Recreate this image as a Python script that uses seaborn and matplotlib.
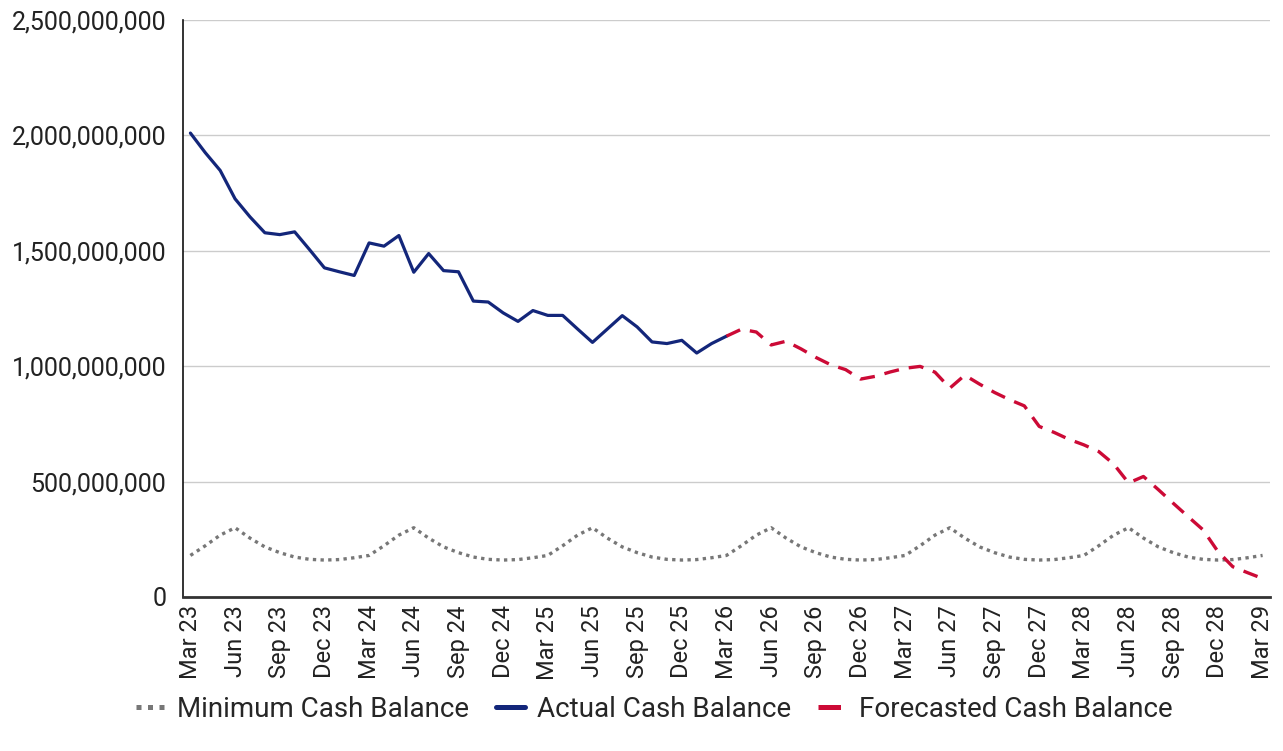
import matplotlib
matplotlib.use("Agg")
import matplotlib.pyplot as plt
from matplotlib.ticker import FuncFormatter
import pandas as pd
import seaborn as sns

# monthly categories, Mar 23 .. Mar 29
months = pd.date_range("2023-03-01", "2029-03-01", freq="MS").strftime("%b %y").tolist()

# values in millions
min_balance = [
    180, 222, 268, 300, 255, 217, 192, 173, 163, 160, 162, 170,
    180, 222, 268, 300, 255, 217, 192, 173, 163, 160, 162, 170,
    180, 222, 268, 300, 255, 217, 192, 173, 163, 160, 162, 170,
    180, 222, 268, 300, 255, 217, 192, 173, 163, 160, 162, 170,
    180, 222, 268, 300, 255, 217, 192, 173, 163, 160, 162, 170,
    180, 222, 268, 300, 255, 217, 192, 173, 163, 160, 162, 170,
    180,
]
actual = [
    2010, 1925, 1848, 1725, 1647, 1578, 1570, 1582, 1505, 1426, 1409, 1393,
    1534, 1520, 1566, 1407, 1488, 1414, 1409, 1282, 1278, 1231, 1194, 1241,
    1220, 1220, 1161, 1103, 1161, 1219, 1170, 1105, 1098, 1112, 1057, 1098,
    1130,
]
forecast = [
    1130, 1160, 1148, 1092, 1108, 1075, 1038, 1006, 985, 944, 956, 975,
    991, 999, 974, 905, 961, 922, 886, 855, 828, 739, 713, 683,
    659, 630, 576, 494, 522, 465, 406, 348, 291, 197, 131, 105,
    80,
]
forecast_start = len(actual) - 1

sns.set_theme(style="white")
plt.rcParams["font.family"] = ["Roboto", "DejaVu Sans"]

min_df = pd.DataFrame({"idx": range(len(min_balance)), "value": [v * 1e6 for v in min_balance]})
act_df = pd.DataFrame({"idx": range(len(actual)), "value": [v * 1e6 for v in actual]})
fc_df = pd.DataFrame({"idx": range(forecast_start, forecast_start + len(forecast)),
                      "value": [v * 1e6 for v in forecast]})

fig = plt.figure(figsize=(12.83, 7.51), dpi=100)
ax = fig.add_axes([0.1426, 0.2051, 0.8473, 0.7683])

sns.lineplot(data=min_df, x="idx", y="value", color="#777777", lw=2.4,
             linestyle=(0, (1, 1.3)), label="Minimum Cash Balance", ax=ax)
sns.lineplot(data=act_df, x="idx", y="value", color="#13267a", lw=2.3,
             label="Actual Cash Balance", ax=ax)
sns.lineplot(data=fc_df, x="idx", y="value", color="#cc0a36", lw=2.4,
             linestyle=(0, (4.5, 3)), label="Forecasted Cash Balance", ax=ax)

ax.set_xlim(-0.5, len(months) - 0.5)
ax.set_ylim(0, 2.5e9)
ax.set_yticks([0, 5e8, 1e9, 1.5e9, 2e9, 2.5e9])
ax.yaxis.set_major_formatter(FuncFormatter(lambda v, p: f"{v:,.0f}"))
ax.set_xticks(range(0, len(months), 3))
ax.set_xticklabels(months[::3], rotation=90)
ax.set_xlabel("")
ax.set_ylabel("")

ax.yaxis.grid(True, color="#cccccc", lw=1)
ax.set_axisbelow(True)
for s in ["top", "right"]:
    ax.spines[s].set_visible(False)
ax.spines["left"].set_color("#111111")
ax.spines["left"].set_linewidth(1.2)
ax.spines["bottom"].set_color("#333333")
ax.spines["bottom"].set_linewidth(2)
ax.tick_params(axis="y", length=0, pad=12, labelsize=18, labelcolor="#222222")
ax.tick_params(axis="x", length=0, pad=6, labelsize=17, labelcolor="#222222")

handles, labels = ax.get_legend_handles_labels()
ax.get_legend().remove()
leg = fig.legend(handles, labels, loc="center", bbox_to_anchor=(0.51, 0.055), ncol=3,
                 frameon=False, fontsize=20, handlelength=1.05, handletextpad=0.4,
                 columnspacing=1.0)
for line in leg.get_lines():
    line.set_linewidth(3.6)

fig.savefig("out.png", dpi=100)
